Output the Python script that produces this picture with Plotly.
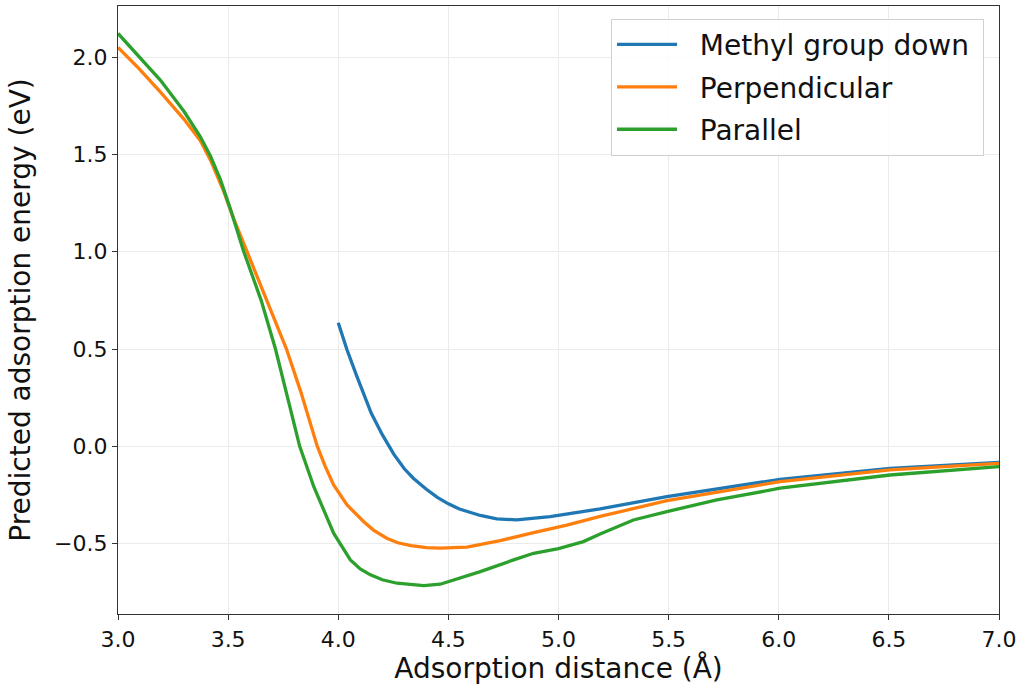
import plotly.graph_objects as go

# Methyl group down
methyl_x = [4.0, 4.04, 4.085, 4.15, 4.2, 4.252, 4.30, 4.342, 4.40, 4.45, 4.5, 4.55,
            4.645, 4.72, 4.811, 4.962, 5.189, 5.492, 6.006, 6.505, 7.0]
methyl_y = [0.635, 0.495, 0.358, 0.17, 0.06, -0.04, -0.115, -0.165, -0.22, -0.262, -0.295, -0.322,
            -0.355, -0.372, -0.378, -0.361, -0.321, -0.258, -0.169, -0.113, -0.082]

# Perpendicular
perp_x = [3.0, 3.087, 3.193, 3.3, 3.374, 3.42, 3.48, 3.525, 3.586, 3.675, 3.765, 3.83,
          3.87, 3.905, 3.94, 3.979, 4.04, 4.116, 4.16, 4.22, 4.27, 4.33, 4.40, 4.463,
          4.584, 4.735, 4.887, 5.038, 5.189, 5.492, 6.006, 6.505, 7.0]
perp_y = [2.049, 1.95, 1.82, 1.68, 1.57, 1.47, 1.31, 1.17, 1.0, 0.75, 0.5, 0.28,
          0.13, 0.0, -0.1, -0.198, -0.301, -0.387, -0.43, -0.472, -0.495, -0.51, -0.52, -0.523,
          -0.518, -0.484, -0.443, -0.404, -0.36, -0.279, -0.181, -0.121, -0.087]

# Parallel
para_x = [3.0, 3.087, 3.193, 3.3, 3.374, 3.42, 3.465, 3.51, 3.571, 3.65, 3.715, 3.77,
          3.825, 3.889, 3.979, 4.055, 4.10, 4.146, 4.2, 4.267, 4.388, 4.463, 4.554, 4.645,
          4.796, 4.887, 5.0, 5.113, 5.189, 5.34, 5.492, 5.719, 6.006, 6.505, 7.0]
para_y = [2.121, 2.01, 1.88, 1.72, 1.59, 1.49, 1.37, 1.22, 1.0, 0.75, 0.5, 0.25,
          0.0, -0.207, -0.446, -0.583, -0.63, -0.66, -0.685, -0.703, -0.715, -0.708, -0.677, -0.643,
          -0.583, -0.549, -0.525, -0.489, -0.45, -0.378, -0.335, -0.275, -0.215, -0.147, -0.104]

series = [
    ("Methyl group down", methyl_x, methyl_y, "#1f77b4"),
    ("Perpendicular", perp_x, perp_y, "#ff7f0e"),
    ("Parallel", para_x, para_y, "#2ca02c"),
]

FONT = "DejaVu Sans"
GAP = "\u00a0\u00a0"  # spacing between legend swatch and label
PAD = "\u00a0"        # right padding inside legend box

fig = go.Figure()
for i, (name, xs, ys, color) in enumerate(series):
    fig.add_trace(go.Scatter(x=xs, y=ys, mode="lines", name=GAP + name + PAD,
                             legendgroup=f"g{i}",
                             line=dict(color=color, width=3.3)))

axis_common = dict(
    showline=True, linecolor="#333333", linewidth=1.2, mirror=True,
    ticks="outside", ticklen=5, tickwidth=1.2, tickcolor="#333333",
    showgrid=True, gridcolor="#ebebeb", gridwidth=1, zeroline=False,
    tickfont=dict(family=FONT, size=22, color="#111111"),
    tickformat=".1f",
)

fig.update_layout(
    width=1025, height=688,
    margin=dict(l=118, r=26, t=6, b=74),
    paper_bgcolor="white", plot_bgcolor="white",
    font=dict(family=FONT, color="#111111"),
    xaxis=dict(range=[3.0, 7.0], dtick=0.5,
               title=dict(text="Adsorption distance (Å)", font=dict(size=28), standoff=6),
               **axis_common),
    yaxis=dict(range=[-0.861, 2.262], tickvals=[-0.5, 0.0, 0.5, 1.0, 1.5, 2.0],
               title=dict(text="Predicted adsorption energy (eV)", font=dict(size=28), standoff=15),
               **axis_common),
    legend=dict(x=0.983, xanchor="right", y=0.979, yanchor="top",
                bgcolor="rgba(255,255,255,0.85)", bordercolor="#d0d0d0", borderwidth=1,
                font=dict(family=FONT, size=28, color="#111111"),
                itemwidth=60, tracegroupgap=3),
    showlegend=True,
)

fig.write_html("out.html")
